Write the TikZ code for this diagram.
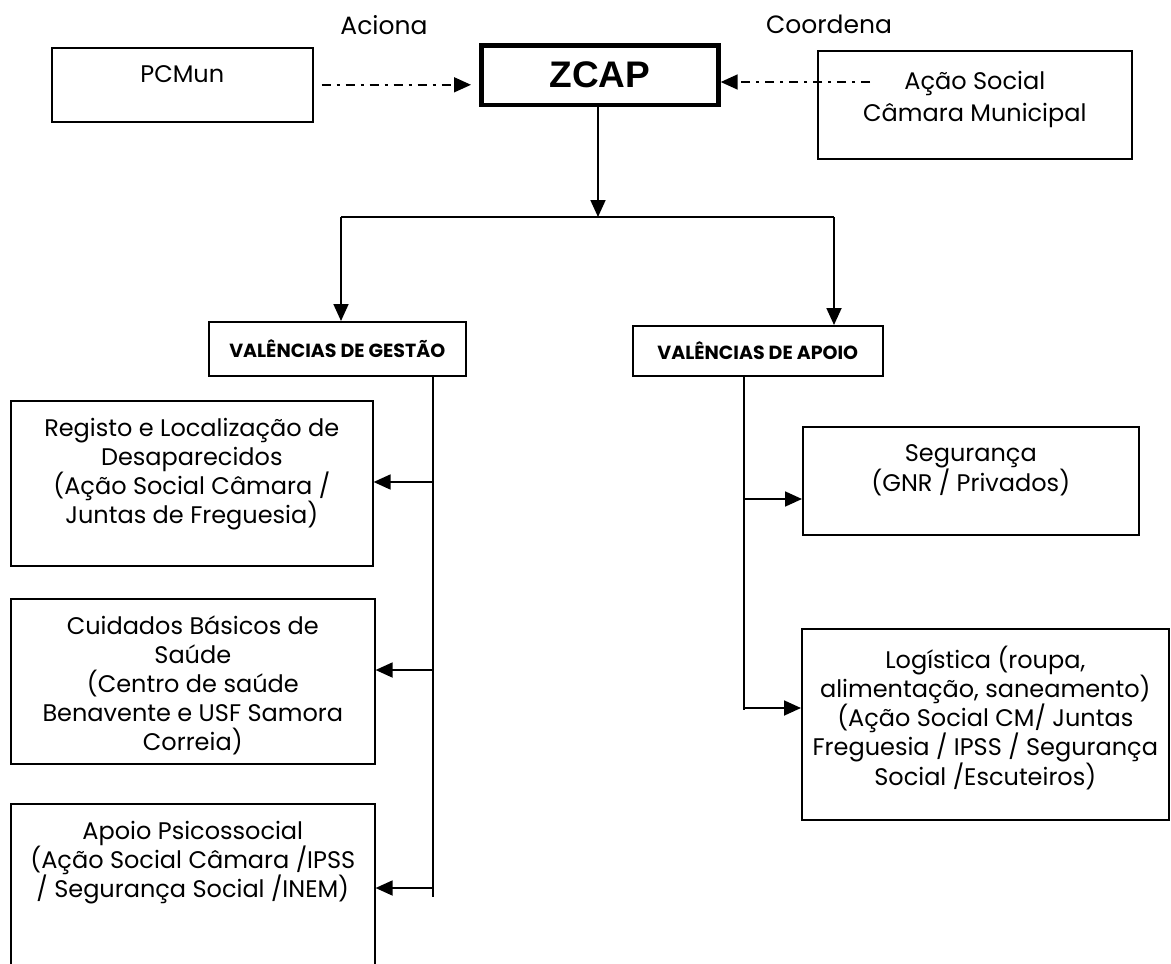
\documentclass[tikz,border=0pt]{standalone}
\usepackage{fontspec}
\setmainfont{Poppins}
\newfontfamily\arialfont{Liberation Sans}
\usetikzlibrary{arrows.meta, positioning, calc}

\tikzset{
  caixa/.style={draw, line width=1.6pt, anchor=north west, inner sep=0pt},
  texto/.style={anchor=north, yshift=-18pt, align=center, inner sep=0pt,
    font=\fontsize{24}{29}\selectfont},
  titulo/.style={font=\fontsize{19}{22}\selectfont\bfseries},
  rotulo/.style={font=\fontsize{25}{29}\selectfont, inner sep=0pt, anchor=base},
  seta/.style={-{Triangle[length=17pt,width=15pt]}, line width=1.8pt},
  tracejado/.style={seta, line width=1.6pt, dash pattern=on 9pt off 6pt on 3pt off 6pt}
}

\begin{document}
\begin{tikzpicture}[x=1pt,y=-1pt]

            % Moldura da figura
            \path[use as bounding box, clip] (0,0) rectangle (1171,964);

            % Caixas de cima
            \node[caixa, minimum width=261pt, minimum height=74pt,
              label={[texto]north:PCMun}] (pcmun) at (51,47) {};
            \node[caixa, line width=4.7pt, minimum width=237pt, minimum height=59.5pt,
              font=\arialfont\fontsize{37}{40}\selectfont\bfseries] (zcap) at (479,43) {ZCAP};
            \node[caixa, minimum width=314pt, minimum height=108pt,
              label={[texto, yshift=-3pt, font=\fontsize{24}{32}\selectfont]north:{Ação Social\\Câmara Municipal}}] (social) at (817,50) {};

            % Rotulos das setas
            \node[rotulo] (aciona) at (384,34) {Aciona};
            \node[rotulo] (coordena) at (829,33) {Coordena};

            % Setas tracejadas
            \coordinate (cstart) at (870,82);
            \draw[tracejado] ([xshift=8pt]pcmun.east) -- ([xshift=-8pt]zcap.west |- pcmun.east);
            \draw[tracejado] (cstart) -- (zcap.east |- cstart);

            % Valencias
            \node[caixa, titulo, minimum width=257pt, minimum height=54pt] (gestao) at (208,321) {VALÊNCIAS DE GESTÃO};
            \node[caixa, titulo, minimum width=250pt, minimum height=50pt] (apoio) at (632,325) {VALÊNCIAS DE APOIO};

            % Ramificacao a partir da ZCAP
            \coordinate (split) at (598,217);
            \coordinate (gbranch) at (341,217);
            \coordinate (abranch) at (834,217);
            \draw[seta] (zcap.south -| split) -- (split);
            \draw[line width=1.8pt] (gbranch) -- (abranch);
            \draw[seta] (gbranch) -- (gbranch |- gestao.north);
            \draw[seta] (abranch) -- (abranch |- apoio.north);

            % Valencias de gestao
            \node[caixa, minimum width=362pt, minimum height=165pt,
              label={[texto]north:{Registo e Localização de\\Desaparecidos\\(Ação Social Câmara /\\Juntas de Freguesia)}}] (registo) at (10,400) {};
            \node[caixa, minimum width=364pt, minimum height=165pt,
              label={[texto]north:{Cuidados Básicos de\\Saúde\\(Centro de saúde\\Benavente e USF Samora\\Correia)}}] (cuidados) at (10,598) {};
            \node[caixa, minimum width=364pt, minimum height=200pt,
              label={[texto]north:{Apoio Psicossocial\\(Ação Social Câmara /IPSS\\/ Segurança Social /INEM)}}] (psico) at (10,803) {};

            % Valencias de apoio
            \node[caixa, minimum width=336pt, minimum height=108pt,
              label={[texto]north:{Segurança\\(GNR / Privados)}}] (seguranca) at (802,426) {};
            \node[caixa, minimum width=367pt, minimum height=191pt,
              label={[texto]north:{Logística (roupa,\\alimentação, saneamento)\\(Ação Social CM/ Juntas\\Freguesia / IPSS / Segurança\\Social /Escuteiros)}}] (logistica) at (801,628) {};

            % Linha vertical da esquerda
            \coordinate (gtrunk) at (433,897);
            \draw[line width=1.8pt] (gestao.south -| gtrunk) -- (gtrunk);
            \foreach \n/\y in {registo/482, cuidados/670, psico/888}
              {\coordinate (t-\n) at (433,\y);
               \draw[seta] (t-\n) -- (\n.east |- t-\n);}

            % Linha vertical da direita
            \coordinate (atrunk) at (744,710);
            \draw[line width=1.8pt] (apoio.south -| atrunk) -- (atrunk);
            \foreach \n/\y in {seguranca/499, logistica/708}
              {\coordinate (t-\n) at (744,\y);
               \draw[seta] (t-\n) -- (\n.west |- t-\n);}

\end{tikzpicture}
\end{document}
